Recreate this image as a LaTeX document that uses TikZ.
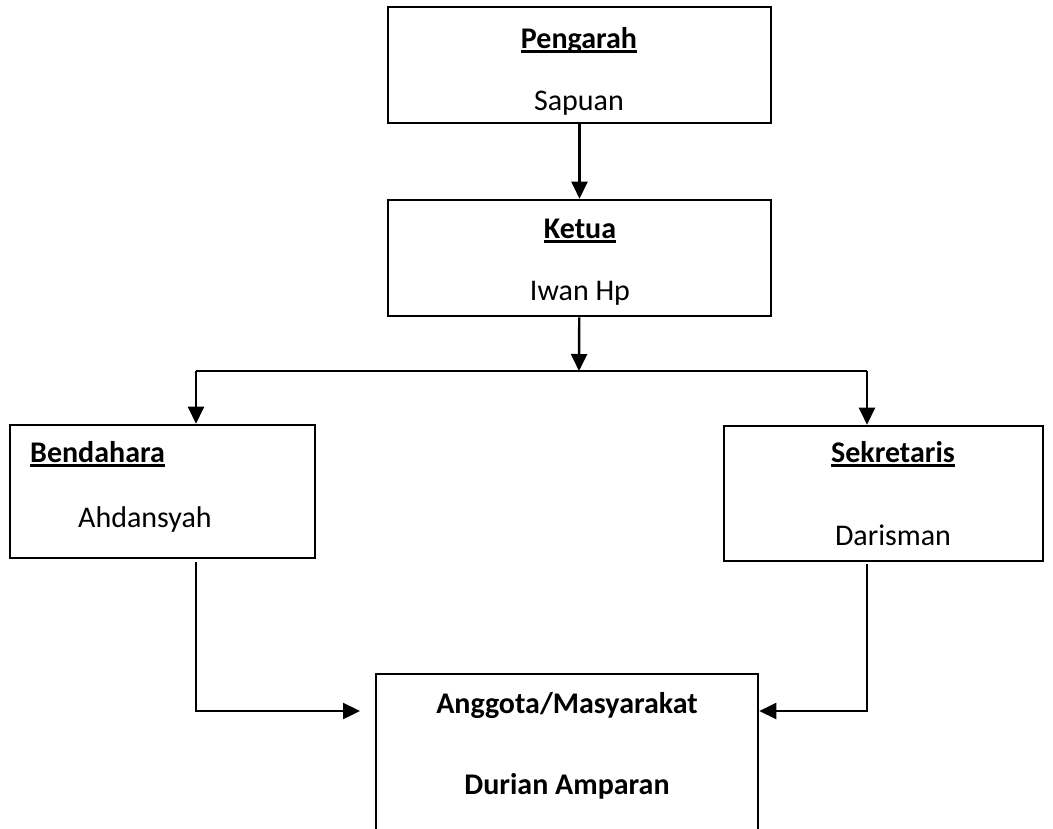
\documentclass[tikz,border=0pt]{standalone}
\usepackage{fontspec}
\setmainfont{Carlito}
\usetikzlibrary{arrows.meta, positioning}

\newcommand\undl[1]{\setbox0\hbox{#1}\rlap{\rule[-5pt]{\wd0}{2.8pt}}\box0}

\tikzset{
  box/.style={draw, rectangle, line width=2.6pt, inner sep=0pt},
  txt/.style={anchor=base, inner sep=0pt, font=\fontsize{30}{36}\selectfont},
  head/.style={txt, font=\fontsize{30}{36}\selectfont\bfseries},
  conn/.style={line width=2.4pt, -{Triangle[length=17pt,width=16pt]}},
}

\begin{document}
\begin{tikzpicture}[x=1pt, y=-1pt]
	\useasboundingbox (0,0) rectangle (1053,828);
	\clip (0,0) rectangle (1053,828);

	% boxes
	\node[box, minimum width=383pt, minimum height=116pt] (pengarah) at (579.5,65) {};
	\node[box, minimum width=383pt, minimum height=116pt] (ketua) at (579.5,258) {};
	\node[box, minimum width=305pt, minimum height=133pt] (bendahara) at (162.5,491.5) {};
	\node[box, minimum width=319pt, minimum height=135pt] (sekretaris) at (883.5,493.5) {};
	\node[box, minimum width=382pt, minimum height=240pt] (anggota) at (567,794) {};

	% texts
	\node[head] (t1) at (579,48) {\undl{Pengarah}};
	\node[txt] (n1) at (579,110) {Sapuan};
	\node[head] (t2) at (580,238) {\undl{Ketua}};
	\node[txt] (n2) at (580,300) {Iwan Hp};
	\node[head, anchor=base west] (t3) at (30,462) {\undl{Bendahara}};
	\node[txt, anchor=base west] (n3) at (78,527) {Ahdansyah};
	\node[head] (t4) at (893,462) {\undl{Sekretaris}};
	\node[txt] (n4) at (893,545) {Darisman};
	\node[head] (t5) at (567,713) {Anggota/Masyarakat};
	\node[head] (n5) at (567,794) {Durian Amparan};

	% branch points
	\coordinate (mid) at (579,371);
	\coordinate (barL) at (196,371);
	\coordinate (barR) at (867,371);
	\coordinate (inL) at (360,711);
	\coordinate (inR) at (anggota.east |- inL);

	\draw[line width=2pt] (barL) -- (barR);
	\draw [conn] (pengarah) -- (ketua);
	\draw [conn] (ketua) -- (mid);
	\draw [conn] (barL) -- (barL |- bendahara.north);
	\draw [conn] (barR) -- (barR |- sekretaris.north);
	\draw [conn] ([yshift=-3pt]barL |- bendahara.south) |- (inL);
	\draw [conn] ([yshift=-2pt]barR |- sekretaris.south) |- (inR);
\end{tikzpicture}
\end{document}
